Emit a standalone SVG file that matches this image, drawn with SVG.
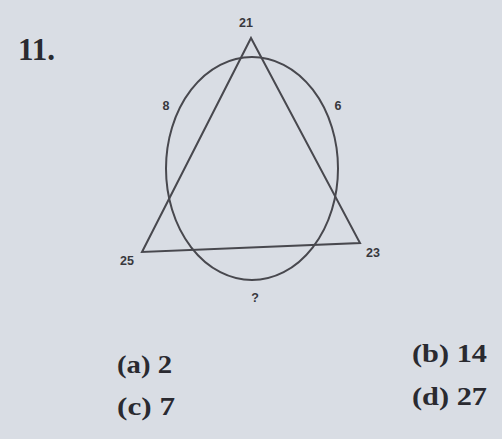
<svg xmlns="http://www.w3.org/2000/svg" width="502" height="439" viewBox="0 0 502 439">
<style>
.lbl{font-family:"Liberation Sans",Arial,sans-serif;font-weight:bold;font-size:12.5px;fill:#38383d;text-anchor:middle}
.opt{font-family:"Liberation Serif","Times New Roman",serif;font-weight:bold;font-size:25px;fill:#2a2a30}
.shape{fill:none;stroke:#48484e;stroke-width:2}
</style>
<rect width="502" height="439" fill="#d9dde4"/>
<text x="18" y="60" font-family="Liberation Serif,serif" font-weight="bold" font-size="32" fill="#2a2a30" textLength="37" lengthAdjust="spacingAndGlyphs">11.</text>
<g id="figure">
<ellipse id="circle" class="shape" cx="252" cy="168.5" rx="86" ry="111.5"/>
<polygon id="triangle" class="shape" points="251,38 360,243 142,252"/>
</g>
<g id="labels">
<text class="lbl" x="246" y="27">21</text>
<text class="lbl" x="166" y="110">8</text>
<text class="lbl" x="338" y="110">6</text>
<text class="lbl" x="127" y="265">25</text>
<text class="lbl" x="373" y="257">23</text>
<text class="lbl" x="255" y="302">?</text>
</g>
<g id="options">
<text class="opt" x="117" y="373" textLength="55" lengthAdjust="spacingAndGlyphs">(a) 2</text>
<text class="opt" x="117" y="415" textLength="58" lengthAdjust="spacingAndGlyphs">(c) 7</text>
<text class="opt" x="412" y="362" textLength="75" lengthAdjust="spacingAndGlyphs">(b) 14</text>
<text class="opt" x="412" y="405" textLength="75" lengthAdjust="spacingAndGlyphs">(d) 27</text>
</g>
</svg>
